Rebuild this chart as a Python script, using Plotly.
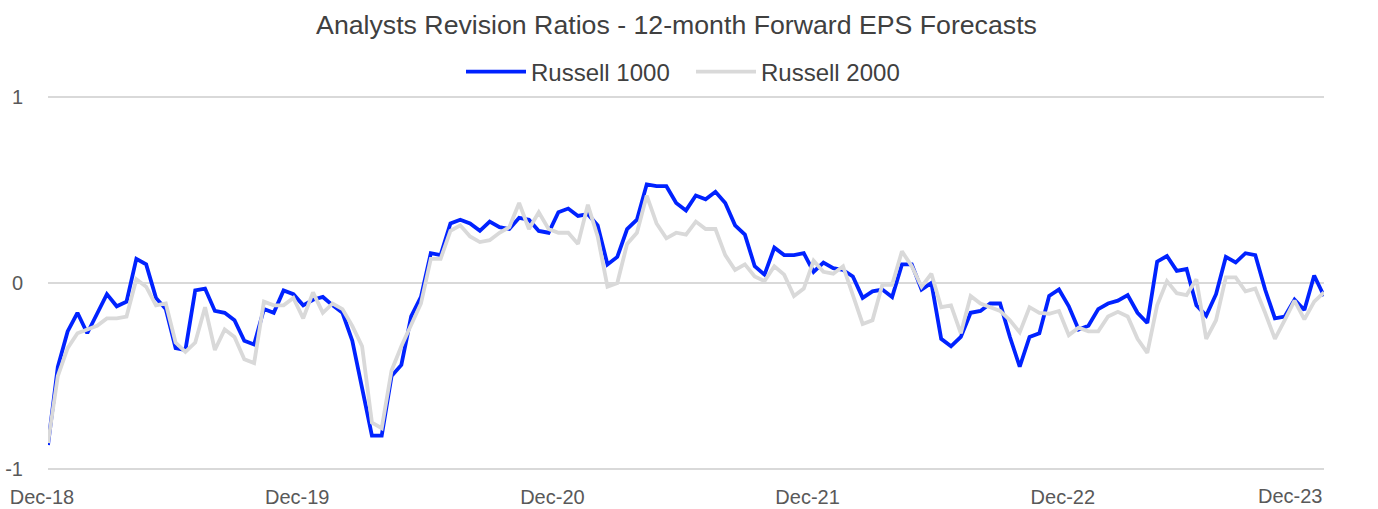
import pandas as pd
import plotly.graph_objects as go

# Bi-weekly observations starting 2018-12-28
start_date = "2018-12-28"
n_points = 131
dates = pd.date_range(start_date, periods=n_points, freq="14D")

russell_1000 = [
    -0.87, -0.45, -0.26, -0.16, -0.27, -0.165, -0.06, -0.125, -0.10, 0.13,
    0.10, -0.08, -0.14, -0.35, -0.36, -0.04, -0.03, -0.15, -0.16, -0.20,
    -0.31, -0.33, -0.14, -0.16, -0.04, -0.06, -0.12, -0.09, -0.075, -0.12,
    -0.16, -0.31, -0.56, -0.82, -0.82, -0.50, -0.44, -0.18, -0.075, 0.16,
    0.15, 0.32, 0.34, 0.32, 0.28, 0.33, 0.30, 0.29, 0.35, 0.34,
    0.28, 0.27, 0.38, 0.40, 0.36, 0.37, 0.31, 0.10, 0.14, 0.29,
    0.34, 0.53, 0.52, 0.52, 0.43, 0.39, 0.47, 0.45, 0.49, 0.43,
    0.31, 0.26, 0.09, 0.045, 0.19, 0.15, 0.15, 0.16, 0.06, 0.11,
    0.08, 0.07, 0.035, -0.08, -0.045, -0.035, -0.075, 0.10, 0.10, -0.035,
    0.00, -0.30, -0.34, -0.29, -0.16, -0.15, -0.11, -0.11, -0.29, -0.45,
    -0.29, -0.27, -0.07, -0.035, -0.125, -0.25, -0.23, -0.14, -0.11, -0.095,
    -0.065, -0.16, -0.215, 0.115, 0.145, 0.065, 0.075, -0.12, -0.175, -0.06,
    0.14, 0.11, 0.16, 0.15, -0.035, -0.19, -0.18, -0.09, -0.145, 0.04,
    -0.07,
]

russell_2000 = [
    -0.86, -0.50, -0.35, -0.27, -0.25, -0.23, -0.19, -0.19, -0.18, 0.02,
    -0.02, -0.12, -0.11, -0.32, -0.37, -0.32, -0.13, -0.36, -0.25, -0.29,
    -0.41, -0.43, -0.10, -0.12, -0.12, -0.08, -0.19, -0.05, -0.16, -0.11,
    -0.14, -0.23, -0.34, -0.75, -0.78, -0.47, -0.34, -0.23, -0.11, 0.13,
    0.13, 0.28, 0.31, 0.25, 0.22, 0.23, 0.27, 0.30, 0.43, 0.29,
    0.38, 0.29, 0.27, 0.27, 0.21, 0.42, 0.25, -0.02, 0.00, 0.21,
    0.27, 0.47, 0.32, 0.24, 0.27, 0.26, 0.33, 0.29, 0.29, 0.15,
    0.07, 0.10, 0.035, 0.01, 0.09, 0.045, -0.07, -0.03, 0.12, 0.06,
    0.05, 0.09, -0.07, -0.22, -0.20, -0.01, -0.01, 0.17, 0.09, -0.02,
    0.05, -0.13, -0.12, -0.27, -0.07, -0.11, -0.13, -0.15, -0.20, -0.265,
    -0.13, -0.16, -0.165, -0.15, -0.28, -0.24, -0.26, -0.26, -0.18, -0.155,
    -0.18, -0.30, -0.375, -0.12, 0.01, -0.055, -0.065, 0.02, -0.30, -0.20,
    0.03, 0.03, -0.045, -0.03, -0.16, -0.30, -0.20, -0.095, -0.195, -0.10,
    -0.05,
]

x_tick_dates = ["2018-12-28", "2019-12-27", "2020-12-25", "2021-12-24", "2022-12-23"]
x_tick_labels = ["Dec-18", "Dec-19", "Dec-20", "Dec-21", "Dec-22"]
last_tick_label = "Dec-23"
y_tick_vals = [-1, 0, 1]
y_tick_labels = ["-1", "0", "1"]

FONT = "Liberation Sans, Arial, sans-serif"
TEXT_COLOR = "#595959"

fig = go.Figure()
fig.add_trace(go.Scatter(
    x=dates, y=russell_1000, mode="lines", name="Russell 1000",
    line=dict(color="#0022FF", width=3.8),
))
fig.add_trace(go.Scatter(
    x=dates, y=russell_2000, mode="lines", name="Russell 2000",
    line=dict(color="#D9D9D9", width=3.8),
))

fig.update_layout(
    width=1378, height=509,
    margin=dict(l=48, r=54, t=95, b=38, autoexpand=False),
    paper_bgcolor="white", plot_bgcolor="white",
    font=dict(family=FONT, color=TEXT_COLOR),
    title=dict(
        text="Analysts Revision Ratios - 12-month Forward EPS Forecasts",
        x=676.5 / 1378, xanchor="center", y=1 - 25 / 509, yanchor="middle",
        yref="container",
        font=dict(family=FONT, size=26.7, color="#404040"),
    ),
    legend=dict(
        orientation="h", xref="container", x=(469 - 8) / 1378, xanchor="left",
        yref="container", y=1 - 72 / 509, yanchor="middle",
        font=dict(family=FONT, size=24, color="#404040"),
        itemwidth=60, entrywidth=155, bgcolor="rgba(0,0,0,0)",
    ),
    showlegend=True,
)

fig.update_xaxes(
    range=[dates[0], dates[-1]],
    tickvals=x_tick_dates, ticktext=x_tick_labels,
    showgrid=False, zeroline=False, showline=False, ticks="",
    tickfont=dict(family=FONT, size=20, color=TEXT_COLOR),
    ticklabelshift=-6, ticklabelstandoff=12, automargin=False,
)
fig.update_yaxes(
    range=[-1.01, 1.01],
    tickvals=y_tick_vals, ticktext=y_tick_labels,
    showgrid=True, gridcolor="#D9D9D9", gridwidth=1.5,
    zeroline=False, showline=False, ticks="",
    tickfont=dict(family=FONT, size=20, color=TEXT_COLOR),
    ticklabelstandoff=24, automargin=False,
)

fig.add_annotation(
    text=last_tick_label, xref="paper", yref="paper",
    x=1.0, xanchor="right", y=0, yanchor="top", yshift=-12,
    showarrow=False, font=dict(family=FONT, size=20, color=TEXT_COLOR),
)

fig.write_html(
    "out.html",
    config={"displayModeBar": False},
    post_script="document.body.style.margin='0';document.body.style.overflow='hidden';",
)
